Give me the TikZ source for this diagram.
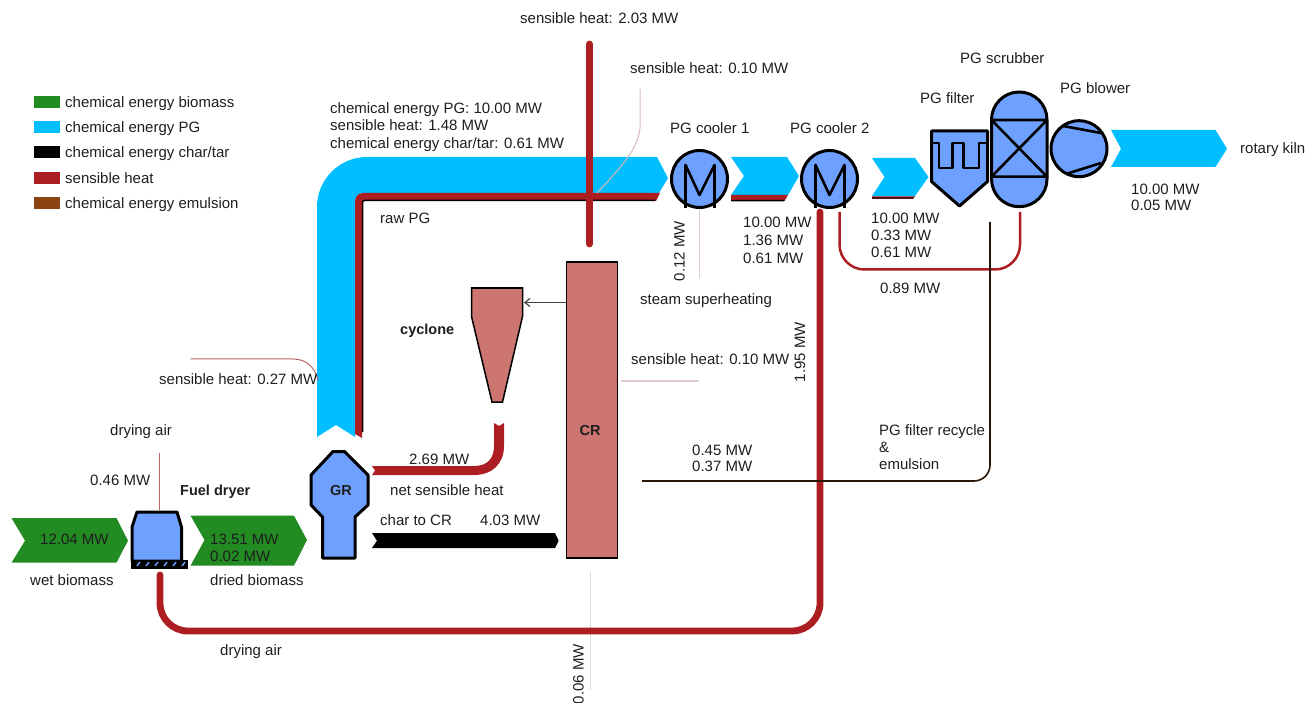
\documentclass[tikz,border=0pt]{standalone}
\usepackage{fontspec}
\setmainfont{Liberation Sans}
\usetikzlibrary{arrows.meta}
\definecolor{pgblue}{RGB}{0,190,255}
\definecolor{eqblue}{RGB}{110,160,255}
\definecolor{heat}{RGB}{172,30,34}
\definecolor{bio}{RGB}{34,139,34}
\definecolor{emul}{RGB}{139,69,19}
\definecolor{crred}{RGB}{205,117,112}
\definecolor{txt}{RGB}{30,30,30}
\definecolor{pale}{RGB}{225,205,205}
\definecolor{rosy}{RGB}{185,100,100}
\tikzset{
  lblbase/.style={inner sep=0pt,text=txt,text height=10pt,text depth=3pt,font=\fontsize{15}{17}\selectfont},
  lbl/.style={lblbase,anchor=west,yshift=-2pt},
  lblb/.style={lbl,font=\fontsize{14.5}{17}\selectfont\bfseries},
  lblr/.style={lblbase,anchor=center,rotate=90},
  equip/.style={draw=black,line width=3pt,fill=eqblue,line join=round},
  inner line/.style={draw=black,line width=2.6pt,line join=round},
  swatch/.style={minimum width=26pt,minimum height=12pt,inner sep=0pt,anchor=west},
  heatline/.style={draw=heat,line width=6.8pt,line cap=round},
  thinheat/.style={draw=heat,line width=2.5pt},
  paleline/.style={draw=pale,line width=1.2pt},
  rosyline/.style={draw=rosy,line width=1pt},
}
\begin{document}
\begin{tikzpicture}[x=1pt,y=-1pt]
\useasboundingbox (0,0) rectangle (1307,703);
% named ends
\coordinate (sh203top) at (589.5,44);
\coordinate (sh203end) at (589.5,244);
\coordinate (c2out) at (820,212);
\coordinate (c2corner) at (820,631);
\coordinate (dryCorner) at (160,631);
\coordinate (dryIn) at (160,575);
\coordinate (c2thin) at (839.5,212);
\coordinate (a89) at (839.5,269.5);
\coordinate (b89) at (1020,269.5);
\coordinate (scrubThin) at (1020,212);
\coordinate (recTop) at (990,222);
\coordinate (recCorner) at (990,481);
\coordinate (recEnd) at (642,481);
\coordinate (airTop) at (159.5,453);
\coordinate (airEnd) at (159.5,510);
\coordinate (steamEnd) at (699.5,278);
\coordinate (c1out) at (699.5,208);
\coordinate (s010a) at (621,381);
\coordinate (s010b) at (699,381);
\coordinate (s006a) at (590.5,572);
\coordinate (s006b) at (590.5,690);

% legend
\node[swatch,fill=bio] (k1) at (34,102) {};
\node[swatch,fill=pgblue] (k2) at (34,127) {};
\node[swatch,fill=black] (k3) at (34,152) {};
\node[swatch,fill=heat] (k4) at (34,178) {};
\node[swatch,fill=emul] (k5) at (34,203) {};
\node[lbl] (k1t) at (65,102) {chemical energy biomass};
\node[lbl] (k2t) at (65,127) {chemical energy PG};
\node[lbl] (k3t) at (65,152) {chemical energy char/tar};
\node[lbl] (k4t) at (65,178) {sensible heat};
\node[lbl] (k5t) at (65,203) {chemical energy emulsion};

% raw PG band
\fill[pgblue] (317,437) [rounded corners=50pt] -- (317,157) [sharp corners] -- (657,157) -- (668,178) -- (659,193)
  [rounded corners=8pt] -- (355,193) [sharp corners] -- (355,437) -- (336,425) -- cycle;
\fill[heat] (355,434) [rounded corners=8pt] -- (355,193) [sharp corners] -- (660,193) -- (656,201)
  [rounded corners=2pt] -- (362,201) [sharp corners] -- (362,438) -- cycle;
\draw[black,line width=1.5pt] (362.5,432) [rounded corners=2pt] -- (362.5,200.5) [sharp corners] -- (655,200.5);
% second and third band
\fill[pgblue] (731,157) -- (787,157) -- (799,176) -- (788,195) -- (731,195) -- (744,176) -- cycle;
\fill[heat] (731,195) -- (788,195) -- (785,200) -- (731,200) -- cycle;
\fill[black] (731,200) -- (785,200) -- (784,201.5) -- (731,201.5) -- cycle;
\fill[pgblue] (872,158) -- (915,158) -- (928.5,177) -- (915,196) -- (872,196) -- (884.5,177) -- cycle;
\fill[heat!50!black] (872,196.5) -- (915,196.5) -- (913,199) -- (872,199) -- cycle;
% outgoing band
\fill[pgblue] (1111,130) -- (1215.5,130) -- (1227,148.7) -- (1215.5,167) -- (1111,167) -- (1121,148.7) -- cycle;
% biomass bands
\fill[bio] (11.5,518) -- (116.5,518) -- (128,540.7) -- (116.5,562.7) -- (11.5,562.7) -- (25,540.7) -- cycle;
\fill[bio] (190.5,515.7) -- (294,515.7) -- (307,540) -- (294,565.7) -- (190.5,565.7) -- (204.5,540) -- cycle;

% thin lines
\draw[paleline] (c1out) -- (steamEnd);
\draw[paleline] (s010a) -- (s010b);
\draw[draw=black!15,line width=1pt] (s006a) -- (s006b);
\draw[rosyline,line width=1.5pt] (airTop) -- (airEnd);
\draw[rosyline] (190.5,359) -- (293,359) .. controls (307,359) and (315,368) .. (318,380);
% heat lines
\draw[draw=pale!80!rosy,line width=1pt] (640,89) -- (640,128) .. controls (638,150) and (620,168) .. (597,193);
\draw[heatline] (sh203top) -- (sh203end);
\draw[heatline] (c2out) [rounded corners=28pt] -- (c2corner) -- (dryCorner) [sharp corners] -- (dryIn);
\draw[thinheat] (c2thin) [rounded corners=25pt] -- (a89) -- (b89) [sharp corners] -- (scrubThin);
\draw[draw=black!70!emul,line width=1.6pt] (recTop) [rounded corners=16pt] -- (recCorner) [sharp corners] -- (recEnd);

% char arrow and net sensible heat
\fill[black] (372,533) -- (555,533) -- (558.7,540.7) -- (555,548) -- (372,548) -- (377,540.7) -- cycle;
\fill[heat] (372,466) -- (474,466) .. controls (488,466) and (494,458) .. (494,446) -- (494,423) -- (499,426) -- (504,423) -- (504,446)
  .. controls (504,464) and (492,475) .. (474,475) -- (372,475) -- (375,470.5) -- cycle;

% GR
\filldraw[equip] (333,451.5) -- (344.5,451.5) -- (368,475) -- (368,505) -- (355,517) -- (355,558) -- (322.5,558) -- (322.5,517) -- (311,505) -- (311,475) -- cycle;
\node[lblb,anchor=center] (grt) at (341,490) {GR};

% Fuel dryer
\filldraw[equip] (137,512) -- (177,512) -- (181.5,527) -- (181.5,561) -- (132,561) -- (132,527) -- cycle;
\fill[black] (131,559.5) rectangle (187.5,568.5);
\foreach \x in {137,146,155,164,173,182} \draw[eqblue,line width=1.4pt] (\x,566) -- (\x+3,562);

% CR and cyclone
\filldraw[draw=black,line width=1.5pt,fill=crred] (566.7,262) rectangle (617.5,558);
\draw[black,line width=2.5pt] (566,262) -- (618,262);
\node[lblb,anchor=center] (crt) at (590,430) {CR};
\filldraw[draw=black,line width=1.5pt,fill=crred] (471.5,288) -- (522.5,288) -- (522.5,316.5) -- (502.5,402) -- (492,402) -- (471.5,316.5) -- cycle;
\draw[black,line width=2.5pt] (471,288) -- (523,288);
\draw[-{Straight Barb[length=5pt,width=8pt]},black!75,line width=1.2pt] (566,302.5) -- (524,302.5);

% coolers
\foreach \cx in {699.5,829.5}{
  \filldraw[equip] (\cx,179) ellipse [x radius=28,y radius=28.5];
  \draw[inner line] (\cx-14,208) -- (\cx-14,165) -- (\cx,195) -- (\cx+15,165) -- (\cx+15,208);
}
% filter
\filldraw[equip] (931.5,131) -- (987.5,131) -- (987.5,181.5) -- (959.5,206) -- (931.5,181.5) -- cycle;
\draw[inner line] (931.5,143) -- (939,143) -- (939,168) -- (952.5,168) -- (952.5,143) -- (963.5,143) -- (963.5,168) -- (979,168) -- (979,143) -- (987.5,143);
% scrubber
\filldraw[equip,rounded corners=27.7pt] (991.5,92) rectangle (1047,206.7);
\draw[inner line] (991.5,120) -- (1047,120) -- (991.5,176.7) -- (1047,176.7) -- cycle;
% blower
\filldraw[equip] (1079,148.7) circle [radius=28];
\draw[inner line] (1063,126) -- (1101,133);
\draw[inner line] (1066,174) -- (1101,163);

% labels
\node[lbl] (t1) at (520,18) {sensible heat: 2.03 MW};
\node[lbl] (t2) at (630,68) {sensible heat: 0.10 MW};
\node[lbl] (t3) at (330,108) {chemical energy PG: 10.00 MW};
\node[lbl] (t4) at (330,125) {sensible heat: 1.48 MW};
\node[lbl] (t5) at (330,143) {chemical energy char/tar: 0.61 MW};
\node[lbl] (t6) at (380,218) {raw PG};
\node[lblb] (t7) at (400,329) {cyclone};
\node[lbl] (t8) at (631,359) {sensible heat: 0.10 MW};
\node[lbl] (t9) at (159,379) {sensible heat: 0.27 MW};
\node[lbl] (t10) at (110,430) {drying air};
\node[lbl] (t11) at (90,480) {0.46 MW};
\node[lblb] (t12) at (180,490) {Fuel dryer};
\node[lbl] (t13) at (40,539) {12.04 MW};
\node[lbl] (t14) at (30,580) {wet biomass};
\node[lbl] (t15) at (210,580) {dried biomass};
\node[lbl] (t16) at (409,459) {2.69 MW};
\node[lbl] (t17) at (390,490) {net sensible heat};
\node[lbl] (t18) at (380,520) {char to CR};
\node[lbl] (t19) at (480,520) {4.03 MW};
\node[lbl] (t20) at (220,650) {drying air};
\node[lbl] (t21) at (692,450) {0.45 MW};
\node[lbl] (t22) at (692,466) {0.37 MW};
\node[lbl] (t23) at (879,430) {PG filter recycle};
\node[lbl] (t24) at (879,447) {\&};
\node[lbl] (t25) at (879,464) {emulsion};
\node[lbl] (t26) at (640,299) {steam superheating};
\node[lbl] (t27) at (670,128) {PG cooler 1};
\node[lbl] (t28) at (790,128) {PG cooler 2};
\node[lbl] (t29) at (920,98) {PG filter};
\node[lbl] (t30) at (960,58) {PG scrubber};
\node[lbl] (t31) at (1060,88) {PG blower};
\node[lbl] (t32) at (1240,148) {rotary kiln};
\node[lbl] (t33) at (1131,189) {10.00 MW};
\node[lbl] (t34) at (1131,205) {0.05 MW};
\node[lbl] (t35) at (743,222) {10.00 MW};
\node[lbl] (t36) at (743,240) {1.36 MW};
\node[lbl] (t37) at (743,258) {0.61 MW};
\node[lbl] (t38) at (871,218) {10.00 MW};
\node[lbl] (t39) at (871,235) {0.33 MW};
\node[lbl] (t40) at (871,252) {0.61 MW};
\node[lbl] (t41) at (880,288) {0.89 MW};
\node[lblr] (t42) at (681,251) {0.12 MW};
\node[lblr] (t43) at (801.5,352) {1.95 MW};
\node[lblr] (t44) at (580,674) {0.06 MW};
\node[lbl] (t45) at (210,539) {13.51 MW};
\node[lbl] (t46) at (210,556) {0.02 MW};
\end{tikzpicture}
\end{document}
